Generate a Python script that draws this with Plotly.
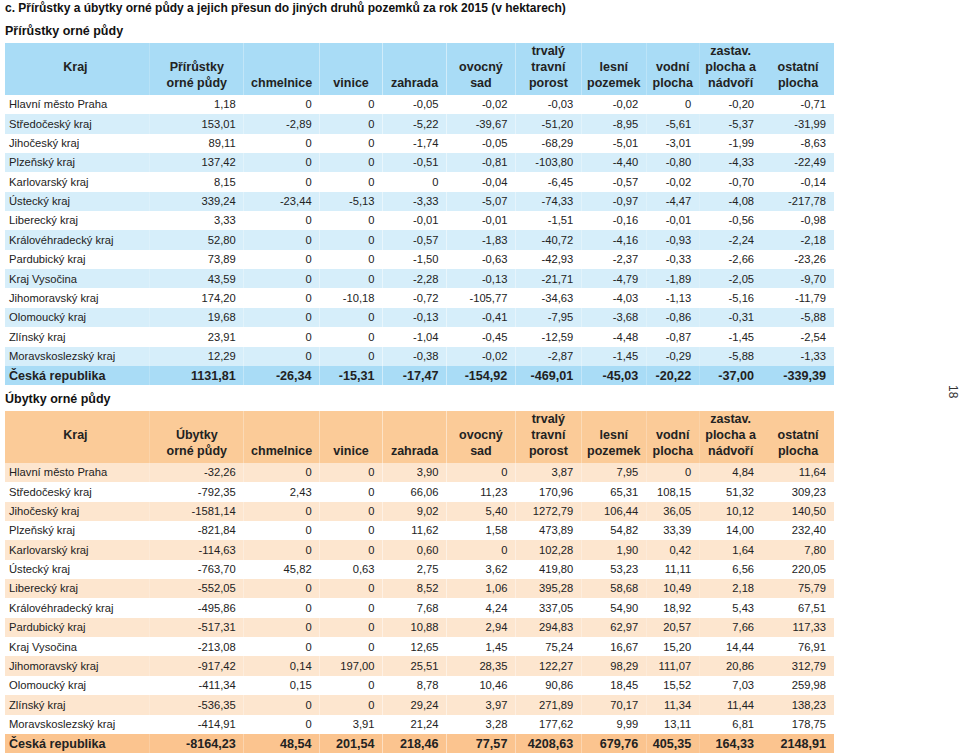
import plotly.graph_objects as go

title = "c. Přírůstky a úbytky orné půdy a jejich přesun do jiných druhů pozemků za rok 2015 (v hektarech)"
sub_top = "Přírůstky orné půdy"
sub_bot = "Úbytky orné půdy"
page_no = "18"

regions = ["Hlavní město Praha", "Středočeský kraj", "Jihočeský kraj", "Plzeňský kraj",
           "Karlovarský kraj", "Ústecký kraj", "Liberecký kraj", "Královéhradecký kraj",
           "Pardubický kraj", "Kraj Vysočina", "Jihomoravský kraj", "Olomoucký kraj",
           "Zlínský kraj", "Moravskoslezský kraj"]
total_label = "Česká republika"

# header rows (3 stacked header lines per column)
head_top = [["", "Kraj", ""], ["", "Přírůstky", "orné půdy"], ["", "", "chmelnice"],
            ["", "", "vinice"], ["", "", "zahrada"], ["", "ovocný", "sad"],
            ["trvalý", "travní", "porost"], ["", "lesní", "pozemek"], ["", "vodní", "plocha"],
            ["zastav.", "plocha a", "nádvoří"], ["", "ostatní", "plocha"]]
head_bot = [["", "Kraj", ""], ["", "Úbytky", "orné půdy"], ["", "", "chmelnice"],
            ["", "", "vinice"], ["", "", "zahrada"], ["", "ovocný", "sad"],
            ["trvalý", "travní", "porost"], ["", "lesní", "pozemek"], ["", "vodní", "plocha"],
            ["zastav.", "plocha a", "nádvoří"], ["", "ostatní", "plocha"]]

# Přírůstky orné půdy
p_orne = [1.18, 153.01, 89.11, 137.42, 8.15, 339.24, 3.33, 52.80, 73.89, 43.59, 174.20, 19.68, 23.91, 12.29]
p_chmel = [0, -2.89, 0, 0, 0, -23.44, 0, 0, 0, 0, 0, 0, 0, 0]
p_vinice = [0, 0, 0, 0, 0, -5.13, 0, 0, 0, 0, -10.18, 0, 0, 0]
p_zahrada = [-0.05, -5.22, -1.74, -0.51, 0, -3.33, -0.01, -0.57, -1.50, -2.28, -0.72, -0.13, -1.04, -0.38]
p_ovoc = [-0.02, -39.67, -0.05, -0.81, -0.04, -5.07, -0.01, -1.83, -0.63, -0.13, -105.77, -0.41, -0.45, -0.02]
p_ttp = [-0.03, -51.20, -68.29, -103.80, -6.45, -74.33, -1.51, -40.72, -42.93, -21.71, -34.63, -7.95, -12.59, -2.87]
p_lesni = [-0.02, -8.95, -5.01, -4.40, -0.57, -0.97, -0.16, -4.16, -2.37, -4.79, -4.03, -3.68, -4.48, -1.45]
p_vodni = [0, -5.61, -3.01, -0.80, -0.02, -4.47, -0.01, -0.93, -0.33, -1.89, -1.13, -0.86, -0.87, -0.29]
p_zastav = [-0.20, -5.37, -1.99, -4.33, -0.70, -4.08, -0.56, -2.24, -2.66, -2.05, -5.16, -0.31, -1.45, -5.88]
p_ostatni = [-0.71, -31.99, -8.63, -22.49, -0.14, -217.78, -0.98, -2.18, -23.26, -9.70, -11.79, -5.88, -2.54, -1.33]
p_totals = [1131.81, -26.34, -15.31, -17.47, -154.92, -469.01, -45.03, -20.22, -37.00, -339.39]

# Úbytky orné půdy
u_orne = [-32.26, -792.35, -1581.14, -821.84, -114.63, -763.70, -552.05, -495.86, -517.31, -213.08, -917.42, -411.34, -536.35, -414.91]
u_chmel = [0, 2.43, 0, 0, 0, 45.82, 0, 0, 0, 0, 0.14, 0.15, 0, 0]
u_vinice = [0, 0, 0, 0, 0, 0.63, 0, 0, 0, 0, 197.00, 0, 0, 3.91]
u_zahrada = [3.90, 66.06, 9.02, 11.62, 0.60, 2.75, 8.52, 7.68, 10.88, 12.65, 25.51, 8.78, 29.24, 21.24]
u_ovoc = [0, 11.23, 5.40, 1.58, 0, 3.62, 1.06, 4.24, 2.94, 1.45, 28.35, 10.46, 3.97, 3.28]
u_ttp = [3.87, 170.96, 1272.79, 473.89, 102.28, 419.80, 395.28, 337.05, 294.83, 75.24, 122.27, 90.86, 271.89, 177.62]
u_lesni = [7.95, 65.31, 106.44, 54.82, 1.90, 53.23, 58.68, 54.90, 62.97, 16.67, 98.29, 18.45, 70.17, 9.99]
u_vodni = [0, 108.15, 36.05, 33.39, 0.42, 11.11, 10.49, 18.92, 20.57, 15.20, 111.07, 15.52, 11.34, 13.11]
u_zastav = [4.84, 51.32, 10.12, 14.00, 1.64, 6.56, 2.18, 5.43, 7.66, 14.44, 20.86, 7.03, 11.44, 6.81]
u_ostatni = [11.64, 309.23, 140.50, 232.40, 7.80, 220.05, 75.79, 67.51, 117.33, 76.91, 312.79, 259.98, 138.23, 178.75]
u_totals = [-8164.23, 48.54, 201.54, 218.46, 77.57, 4208.63, 679.76, 405.35, 164.33, 2148.91]

FONT = "Liberation Sans, Arial, sans-serif"
TXT = "#222222"
NBSP = "\u00a0"
CLEAR = "rgba(0,0,0,0)"


def fmt(v):
    if v == 0:
        return "0"
    return f"{v:.2f}".replace(".", ",")


colw = [145, 94, 76, 63, 64, 69, 66, 65, 53, 63, 72]
W, H = 960, 754
X0 = 5
X1 = X0 + sum(colw)
TX0 = 1                          # text layer starts a little further left (first column only)
colw_txt = [colw[0] + (X0 - TX0)] + colw[1:]
HH = 17.33     # header band line height (fill)
HT = 16.0      # header text line spacing
RH = 19.35     # body row height
DY = 3         # text lift inside body rows
HDY = 5.5      # text lift inside header
NCOL = len(colw)
aligns = ["left"] + ["right"] * (NCOL - 1)

fig = go.Figure()


def ydom(top, bot):
    return [max(0, 1 - bot / H), 1 - top / H]


def text_table(vals, top, height, align, size, weight):
    rows = len(vals[0])
    fig.add_trace(go.Table(
        domain=dict(x=[TX0 / W, X1 / W], y=ydom(top, min(H, top + rows * height + 6))),
        columnwidth=colw_txt,
        header=dict(values=vals, fill_color=CLEAR, align=align, height=height,
                    line=dict(width=0, color=CLEAR),
                    font=dict(family=FONT, size=size, color=TXT, weight=weight)),
        cells=dict(values=[]),
    ))


sections = [
    ([p_orne, p_chmel, p_vinice, p_zahrada, p_ovoc, p_ttp, p_lesni, p_vodni, p_zastav, p_ostatni],
     p_totals, head_top, "#a9dcf6", "#d6eefa", "#a9dcf6", False, 43, 395),
    ([u_orne, u_chmel, u_vinice, u_zahrada, u_ovoc, u_ttp, u_lesni, u_vodni, u_zastav, u_ostatni],
     u_totals, head_bot, "#fbcb98", "#fde6cf", "#fbc48f", True, 411, 754),
]
n = len(regions)
for cols, totals, heads, hc, ac, tc, odd, top, bot in sections:
    # background layer
    row_fill = []
    for i in range(n):
        shaded = (i % 2 == 0) if odd else (i % 2 == 1)
        row_fill.append(ac if shaded else "white")
    row_fill.append(tc)
    fig.add_trace(go.Table(
        domain=dict(x=[X0 / W, X1 / W], y=ydom(top, bot)),
        columnwidth=colw,
        header=dict(values=[["", "", ""] for _ in range(NCOL)], fill_color=hc, height=HH,
                    line=dict(width=0, color=hc)),
        cells=dict(values=[[""] * (n + 1) for _ in range(NCOL)],
                   fill_color=[row_fill for _ in range(NCOL)], height=RH,
                   line=dict(width=0, color="white")),
    ))
    body_top = top + 3 * HH
    # header text
    hvals = [[h.replace(" ", NBSP) for h in col] for col in heads]
    text_table(hvals, top - HDY, HT, "center", 12.5, "bold")
    # body text
    bvals = [[r.replace(" ", NBSP) for r in regions]] + [[fmt(v) for v in c] for c in cols]
    text_table(bvals, body_top - DY, RH, aligns, 11.2, "normal")
    # total row text
    tvals = [[total_label.replace(" ", NBSP)]] + [[fmt(t)] for t in totals]
    text_table(tvals, body_top + n * RH - DY, RH, aligns, 12.6, "bold")

fig.add_annotation(text=f"<b>{title}</b>", x=3 / W, y=1 - 8 / H, xref="paper", yref="paper",
                   xanchor="left", yanchor="middle", showarrow=False,
                   font=dict(family=FONT, size=12.0, color="#111111"))
fig.add_annotation(text=f"<b>{sub_top}</b>", x=3 / W, y=1 - 31 / H, xref="paper", yref="paper",
                   xanchor="left", yanchor="middle", showarrow=False,
                   font=dict(family=FONT, size=12.5, color="#111111"))
fig.add_annotation(text=f"<b>{sub_bot}</b>", x=3 / W, y=1 - 398 / H, xref="paper", yref="paper",
                   xanchor="left", yanchor="middle", showarrow=False,
                   font=dict(family=FONT, size=12.5, color="#111111"))
fig.add_annotation(text=page_no, x=953 / W, y=1 - 392 / H, xref="paper", yref="paper",
                   xanchor="center", yanchor="middle", showarrow=False, textangle=90,
                   font=dict(family=FONT, size=12, color="#333333"))

fig.update_layout(width=W, height=H, margin=dict(l=0, r=0, t=0, b=0),
                  paper_bgcolor="white", plot_bgcolor="white")
fig.write_html("out.html", config={"displayModeBar": False},
               post_script="document.body.style.margin='0px';")
